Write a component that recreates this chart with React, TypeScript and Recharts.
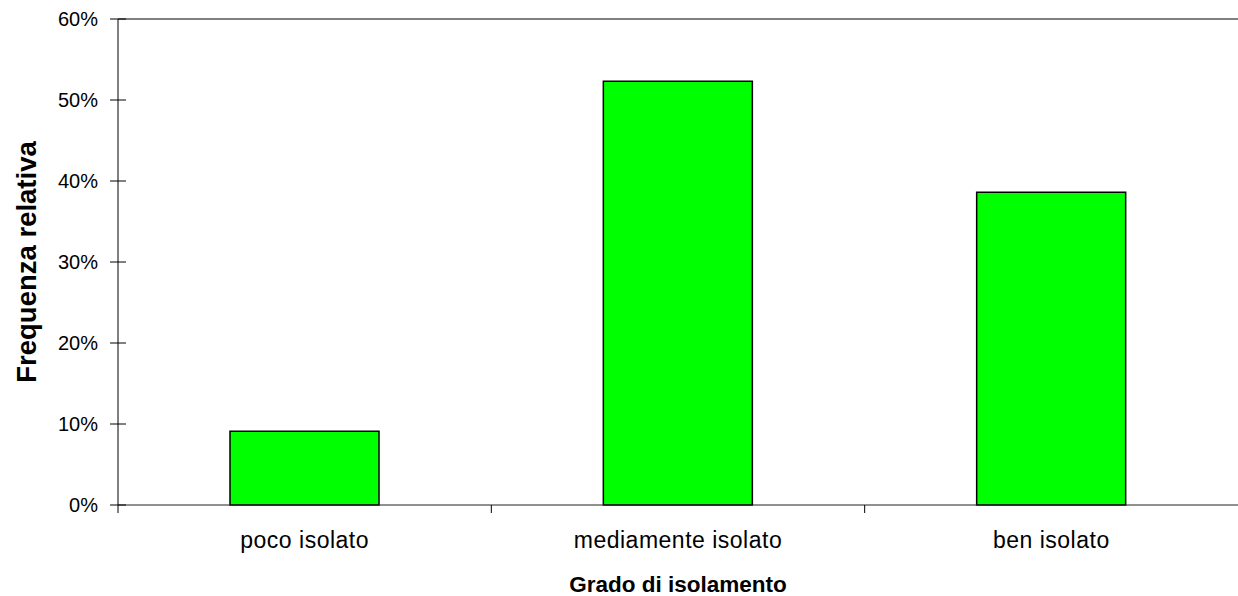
import React from "react";
import { BarChart, Bar, XAxis, YAxis, ReferenceLine, Label } from "recharts";

// valori
const categorie = ["poco isolato", "mediamente isolato", "ben isolato"];
const frequenze = [9.1, 52.3, 38.6];
const tickY = [0, 10, 20, 30, 40, 50, 60];

const data = categorie.map((c, i) => ({ grado: c, frequenza: frequenze[i] }));

const W = 1238;
const H = 596;
const Y_W = 118;
const X_H = 91;
const FONT = "'Liberation Sans', Arial, Helvetica, sans-serif";
const bandW = (W - Y_W) / categorie.length;
const TS = 8;
const TM_Y = 11;
const TM_X = 35;

const YTick = (props: any) => {
  const { x, y, payload } = props;
  return (
    <g>
      <line x1={x + TM_Y} x2={x + TM_Y + 2 * TS} y1={y} y2={y} stroke="#000" />
      <text x={x - 1} y={y} dy={7} textAnchor="end" fontFamily={FONT} fontSize={20} fill="#000">
        {payload.value}%
      </text>
    </g>
  );
};

const XTick = (props: any) => {
  const { x, y, payload } = props;
  const lx = x - bandW / 2;
  return (
    <g>
      <line x1={lx} x2={lx} y1={y - TM_X - TS} y2={y - TM_X} stroke="#000" />
      <text x={x} y={y} textAnchor="middle" fontFamily={FONT} fontSize={23} letterSpacing={0.5} fill="#000">
        {payload.value}
      </text>
    </g>
  );
};

const App: React.FC = () => {
  return (
    <div style={{ position: "absolute", left: 0, top: 0, width: W, height: H, background: "#fff" }}>
      <BarChart
        width={W}
        height={H}
        data={data}
        margin={{ top: 19, right: 0, bottom: 0, left: 0 }}
        barCategoryGap="30%"
      >
        <XAxis
          dataKey="grado"
          type="category"
          height={X_H}
          axisLine={{ stroke: "#222" }}
          tickLine={false}
          tickSize={TS}
          tickMargin={TM_X}
          tick={<XTick />}
          interval={0}
        >
          <Label
            content={({ viewBox }: any) => (
              <text
                x={viewBox.x + viewBox.width / 2}
                y={592}
                textAnchor="middle"
                fontFamily={FONT}
                fontWeight="bold"
                fontSize={22.5}
                fill="#000"
              >
                Grado di isolamento
              </text>
            )}
          />
        </XAxis>
        <YAxis
          type="number"
          width={Y_W}
          domain={[0, 60]}
          ticks={tickY}
          interval={0}
          axisLine={{ stroke: "#000" }}
          tickLine={false}
          tickSize={TS}
          tickMargin={TM_Y}
          tick={<YTick />}
        >
          <Label
            content={({ viewBox }: any) => {
              const cx = 26;
              const cy = viewBox.y + viewBox.height / 2;
              return (
                <text
                  x={cx}
                  y={cy}
                  dy={10}
                  transform={`rotate(-90 ${cx} ${cy})`}
                  textAnchor="middle"
                  fontFamily={FONT}
                  fontWeight="bold"
                  fontSize={27.5}
                  fill="#000"
                >
                  Frequenza relativa
                </text>
              );
            }}
          />
        </YAxis>
        <ReferenceLine y={60} stroke="#808080" strokeWidth={2} />
        <Bar dataKey="frequenza" fill="#00FF00" stroke="#000" strokeWidth={1.5} isAnimationActive={false} />
      </BarChart>
    </div>
  );
};

export default App;
